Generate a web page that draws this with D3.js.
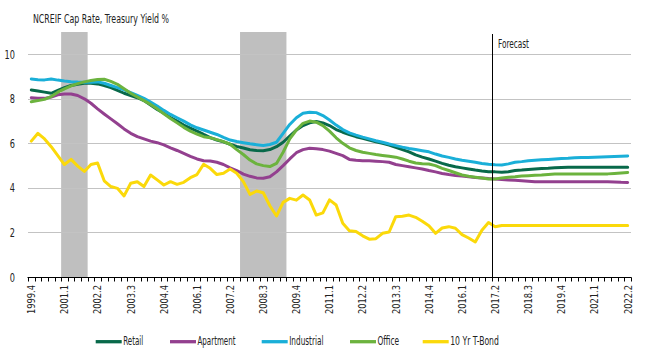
<!DOCTYPE html>
<html><head><meta charset="utf-8">
<script src="https://cdn.jsdelivr.net/npm/d3@7"></script>
<style>html,body{margin:0;padding:0;background:#fff;} svg{display:block;}</style>
</head><body><svg id="c" width="646" height="359"></svg>
<script>
const quarters = ["1999.4",
 "2000.1","2000.2","2000.3","2000.4","2001.1","2001.2","2001.3","2001.4",
 "2002.1","2002.2","2002.3","2002.4","2003.1","2003.2","2003.3","2003.4",
 "2004.1","2004.2","2004.3","2004.4","2005.1","2005.2","2005.3","2005.4",
 "2006.1","2006.2","2006.3","2006.4","2007.1","2007.2","2007.3","2007.4",
 "2008.1","2008.2","2008.3","2008.4","2009.1","2009.2","2009.3","2009.4",
 "2010.1","2010.2","2010.3","2010.4","2011.1","2011.2","2011.3","2011.4",
 "2012.1","2012.2","2012.3","2012.4","2013.1","2013.2","2013.3","2013.4",
 "2014.1","2014.2","2014.3","2014.4","2015.1","2015.2","2015.3","2015.4",
 "2016.1","2016.2","2016.3","2016.4","2017.1","2017.2","2017.3","2017.4",
 "2018.1","2018.2","2018.3","2018.4","2019.1","2019.2","2019.3","2019.4",
 "2020.1","2020.2","2020.3","2020.4","2021.1","2021.2","2021.3","2021.4",
 "2022.1","2022.2"];

const tickLabels = ["1999.4","2001.1","2002.2","2003.3","2004.4","2006.1","2007.2","2008.3","2009.4",
 "2011.1","2012.2","2013.3","2014.4","2016.1","2017.2","2018.3","2019.4","2021.1","2022.2"];

const yTicks = [0, 2, 4, 6, 8, 10];
const yMax = 11;

const recessions = [["2001.1","2001.4"],["2007.4","2009.2"]];
const forecastStart = "2017.2";

const retail = [
 8.40,8.35,8.30,8.25,8.38,8.50,8.60,8.65,8.70,8.70,
 8.67,8.60,8.50,8.38,8.25,8.15,8.05,7.92,7.72,7.52,
 7.35,7.16,7.00,6.82,6.68,6.55,6.40,6.26,6.15,6.07,
 5.96,5.86,5.79,5.71,5.68,5.67,5.72,5.85,6.05,6.33,
 6.60,6.80,6.92,6.98,6.92,6.80,6.62,6.50,6.40,6.30,
 6.23,6.15,6.07,6.00,5.92,5.82,5.72,5.62,5.48,5.38,
 5.30,5.20,5.10,5.02,4.95,4.90,4.85,4.80,4.76,4.73,
 4.72,4.70,4.73,4.78,4.80,4.83,4.85,4.87,4.88,4.90,
 4.92,4.93,4.93,4.93,4.93,4.93,4.93,4.93,4.93,4.93,4.93];

const apartment = [
 8.05,8.03,8.02,8.08,8.18,8.22,8.22,8.15,8.00,7.80,
 7.55,7.32,7.10,6.88,6.65,6.45,6.30,6.20,6.10,6.03,
 5.93,5.80,5.68,5.55,5.42,5.30,5.22,5.21,5.15,5.05,
 4.90,4.78,4.62,4.52,4.45,4.43,4.50,4.72,5.00,5.30,
 5.58,5.72,5.78,5.76,5.72,5.65,5.55,5.45,5.28,5.24,
 5.22,5.22,5.20,5.18,5.15,5.05,5.00,4.95,4.90,4.85,
 4.78,4.72,4.65,4.60,4.56,4.53,4.50,4.47,4.45,4.42,
 4.40,4.38,4.36,4.34,4.32,4.30,4.28,4.28,4.28,4.28,
 4.28,4.28,4.28,4.28,4.28,4.28,4.28,4.28,4.27,4.25,4.24];

const industrial = [
 8.89,8.86,8.85,8.89,8.84,8.80,8.77,8.75,8.74,8.74,
 8.76,8.70,8.60,8.50,8.40,8.28,8.15,8.02,7.85,7.68,
 7.48,7.30,7.15,7.00,6.83,6.70,6.60,6.50,6.40,6.27,
 6.15,6.08,6.03,5.98,5.94,5.90,5.95,6.05,6.45,6.85,
 7.15,7.35,7.40,7.38,7.25,7.05,6.82,6.62,6.47,6.37,
 6.28,6.20,6.12,6.05,5.97,5.90,5.83,5.77,5.72,5.67,
 5.62,5.52,5.43,5.37,5.30,5.24,5.20,5.15,5.10,5.06,
 5.04,5.03,5.08,5.15,5.18,5.22,5.24,5.26,5.28,5.30,
 5.32,5.33,5.35,5.36,5.37,5.38,5.39,5.40,5.41,5.42,5.43];

const office = [
 7.87,7.92,7.98,8.10,8.30,8.45,8.58,8.68,8.76,8.82,
 8.87,8.88,8.78,8.65,8.45,8.25,8.08,7.92,7.75,7.55,
 7.33,7.12,6.92,6.72,6.55,6.42,6.30,6.25,6.17,6.08,
 5.96,5.72,5.50,5.25,5.08,5.00,4.96,5.10,5.60,6.20,
 6.60,6.90,7.00,6.95,6.80,6.55,6.25,6.00,5.80,5.68,
 5.60,5.55,5.50,5.46,5.42,5.38,5.30,5.20,5.12,5.08,
 5.07,5.00,4.88,4.78,4.68,4.58,4.52,4.48,4.44,4.40,
 4.40,4.45,4.48,4.50,4.53,4.55,4.57,4.58,4.60,4.62,
 4.63,4.63,4.63,4.63,4.63,4.63,4.63,4.63,4.65,4.67,4.69];

const tBond = [
 6.10,6.45,6.20,5.85,5.45,5.05,5.28,4.98,4.74,5.05,
 5.12,4.32,4.06,3.98,3.64,4.21,4.28,4.06,4.58,4.36,
 4.13,4.28,4.16,4.25,4.46,4.60,5.06,4.88,4.60,4.66,
 4.85,4.66,4.28,3.71,3.86,3.78,3.20,2.74,3.35,3.53,
 3.45,3.68,3.46,2.78,2.88,3.46,3.23,2.41,2.08,2.04,
 1.85,1.70,1.72,1.96,2.02,2.71,2.73,2.78,2.68,2.50,
 2.30,1.96,2.20,2.26,2.19,1.90,1.75,1.57,2.10,2.45,
 2.26,2.31,2.31,2.31,2.31,2.31,2.31,2.31,2.31,2.31,
 2.31,2.31,2.31,2.31,2.31,2.31,2.31,2.31,2.31,2.31,2.31];

const seriesNames = ["Retail","Apartment","Industrial","Office","10 Yr T-Bond"];
const seriesData = [retail, apartment, industrial, office, tBond];
const seriesColors = ["#08694a","#93408f","#1aafd8","#6cb33e","#fbd90a"];

const titleText = "NCREIF Cap Rate, Treasury Yield %";
const forecastText = "Forecast";

// ---------- drawing ----------
const FONT = "'Liberation Sans Narrow','Arial Narrow','DejaVu Sans Condensed',sans-serif";
const TXT = "#222";
const svg = d3.select("#c");

const x = d3.scaleBand().domain(quarters).range([28, 631]).padding(0);
const y = d3.scaleLinear().domain([0, yMax]).range([277, 32]);
const cx = q => x(q) + x.bandwidth() / 2;

// title
svg.append("text").attr("x", 33).attr("y", 23)
  .attr("font-family", FONT).attr("font-size", 12.5).attr("fill", TXT)
  .attr("textLength", 136).attr("lengthAdjust", "spacingAndGlyphs")
  .text(titleText);

// recession bars
svg.append("g").selectAll("rect").data(recessions).join("rect")
  .attr("x", d => x(d[0]))
  .attr("width", d => x(d[1]) + x.bandwidth() - x(d[0]))
  .attr("y", y(yMax))
  .attr("height", y(0) - y(yMax))
  .attr("fill", "#bfbfbf");

// gridlines
svg.append("g").selectAll("line").data(yTicks.filter(v => v > 0)).join("line")
  .attr("x1", 28).attr("x2", 631)
  .attr("y1", d => Math.round(y(d)) + 0.5).attr("y2", d => Math.round(y(d)) + 0.5)
  .attr("stroke", "#c3c3c3").attr("stroke-width", 1);

// y labels
svg.append("g").selectAll("text").data(yTicks).join("text")
  .attr("x", 15).attr("y", d => y(d)).attr("dy", "0.36em")
  .attr("text-anchor", "end")
  .attr("font-family", FONT).attr("font-size", 12.5).attr("fill", TXT)
  .attr("textLength", d => String(d).length * 5.2).attr("lengthAdjust", "spacingAndGlyphs")
  .text(d => d);

// series lines
const line = d3.line().x((d, i) => cx(quarters[i])).y(d => y(d)).curve(d3.curveLinear);
svg.append("g").selectAll("path").data(seriesData).join("path")
  .attr("d", d => line(d))
  .attr("fill", "none")
  .attr("stroke", (d, i) => seriesColors[i])
  .attr("stroke-width", 3)
  .attr("stroke-linejoin", "round")
  .attr("stroke-linecap", "round");

// forecast divider
const fx = Math.round(x(forecastStart)) + 0.5;
svg.append("line").attr("x1", fx).attr("x2", fx).attr("y1", 34).attr("y2", y(0))
  .attr("stroke", "#000").attr("stroke-width", 1);
svg.append("text").attr("x", 498).attr("y", 47.5)
  .attr("font-family", FONT).attr("font-size", 12.5).attr("fill", TXT)
  .attr("textLength", 31).attr("lengthAdjust", "spacingAndGlyphs")
  .text(forecastText);

// x axis
const ax = svg.append("g");
const y0 = Math.round(y(0)) + 0.5;
ax.append("line").attr("x1", 27.5).attr("x2", 631.5).attr("y1", y0).attr("y2", y0)
  .attr("stroke", "#000").attr("stroke-width", 1);
const bounds = quarters.map(q => x(q)).concat([x.range()[1]]);
ax.selectAll("line.t").data(bounds).join("line").attr("class", "t")
  .attr("x1", d => Math.round(d) + 0.5).attr("x2", d => Math.round(d) + 0.5)
  .attr("y1", y0).attr("y2", y0 + 4)
  .attr("stroke", "#000").attr("stroke-width", 1);
ax.selectAll("text").data(tickLabels).join("text")
  .attr("transform", d => `translate(${cx(d)},285) rotate(-90)`)
  .attr("text-anchor", "end").attr("dy", "0.35em")
  .attr("font-family", FONT).attr("font-size", 11).attr("fill", TXT)
  .attr("textLength", 29).attr("lengthAdjust", "spacingAndGlyphs")
  .text(d => d);

// legend
const legX = [95.7, 170, 261.7, 350, 422.7];
const legW = [20, 38, 34.3, 21.7, 48.7];
const lg = svg.append("g").selectAll("g").data(seriesNames).join("g")
  .attr("transform", (d, i) => `translate(${legX[i]},341.7)`);
lg.append("line").attr("x1", 0).attr("x2", 26).attr("y1", 0).attr("y2", 0)
  .attr("stroke", (d, i) => seriesColors[i]).attr("stroke-width", 3.3);
lg.append("text").attr("x", 27.5).attr("y", 3.5)
  .attr("font-family", FONT).attr("font-size", 11.5).attr("fill", TXT)
  .attr("textLength", (d, i) => legW[i]).attr("lengthAdjust", "spacingAndGlyphs")
  .text(d => d);
</script>
</body></html>
